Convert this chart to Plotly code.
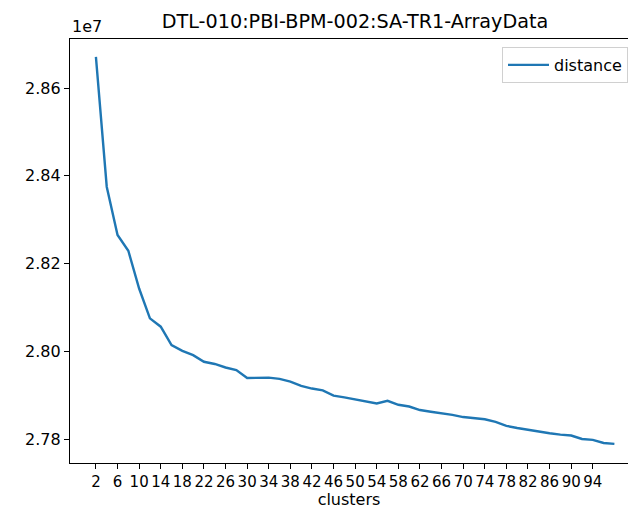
import plotly.graph_objects as go

clusters = list(range(2, 100, 2))
distance = [
    28671000, 28375000, 28265000, 28229000, 28143000, 28075000, 28056000, 28014000,
    28001000, 27991000, 27976000, 27971000, 27963000, 27957000, 27939000, 27940000,
    27940000, 27937000, 27931000, 27921000, 27915000, 27911000, 27899000, 27895000,
    27890000, 27885000, 27881000, 27887000, 27878000, 27874000, 27866000, 27862000,
    27859000, 27855000, 27850000, 27848000, 27845000, 27839000, 27830000, 27825000,
    27821000, 27816000, 27813000, 27810000, 27808000, 27800000, 27798000, 27791000,
    27789000,
]
x_ticks = list(range(2, 98, 4))
y_tick_vals = [27800000, 28000000, 28200000, 28400000, 28600000]
y_tick_text = ["2.78", "2.80", "2.82", "2.84", "2.86"]

FONT = "DejaVu Sans"

fig = go.Figure()
fig.add_trace(go.Scatter(
    x=clusters, y=distance, mode="lines", name="distance",
    line=dict(color="#1f77b4", width=2.4),
))

fig.update_layout(
    width=628, height=509,
    margin=dict(l=70, r=0, t=39, b=46, autoexpand=False),
    paper_bgcolor="white", plot_bgcolor="white",
    font=dict(family=FONT, size=16, color="black"),
    title=dict(text="DTL-010:PBI-BPM-002:SA-TR1-ArrayData", x=355/628, xanchor="center",
               y=1 - 21/509, yanchor="middle", font=dict(size=19.2, family=FONT)),
    showlegend=True,
    legend=dict(x=1, xanchor="right", y=1 - (47-39)/424, yanchor="top",
                bgcolor="white", bordercolor="#d0d0d0", borderwidth=1,
                itemwidth=41,
                font=dict(size=16, family=FONT)),
    xaxis=dict(
        range=[-2.8, 2 + (628-96)/5.4], tickmode="array", tickvals=x_ticks, tickangle=0,
        tickfont=dict(size=15),
        showgrid=False, zeroline=False, showline=True, linecolor="black", linewidth=1.3,
        mirror=True, ticks="outside", ticklen=5, tickwidth=1.3, tickcolor="black",
        title=dict(text="clusters", standoff=5, font=dict(size=16)),
    ),
    yaxis=dict(
        range=[27745300, 28711700], tickmode="array", tickvals=y_tick_vals, ticktext=y_tick_text,
        showgrid=False, zeroline=False, showline=True, linecolor="black", linewidth=1.3,
        ticks="outside", ticklen=5, tickwidth=1.3, tickcolor="black",
    ),
)
fig.add_annotation(text="1e7", xref="paper", yref="paper", x=0, y=1, xanchor="left",
                   yanchor="bottom", yshift=1, showarrow=False, font=dict(size=16, family=FONT))

fig.write_html("out.html")
